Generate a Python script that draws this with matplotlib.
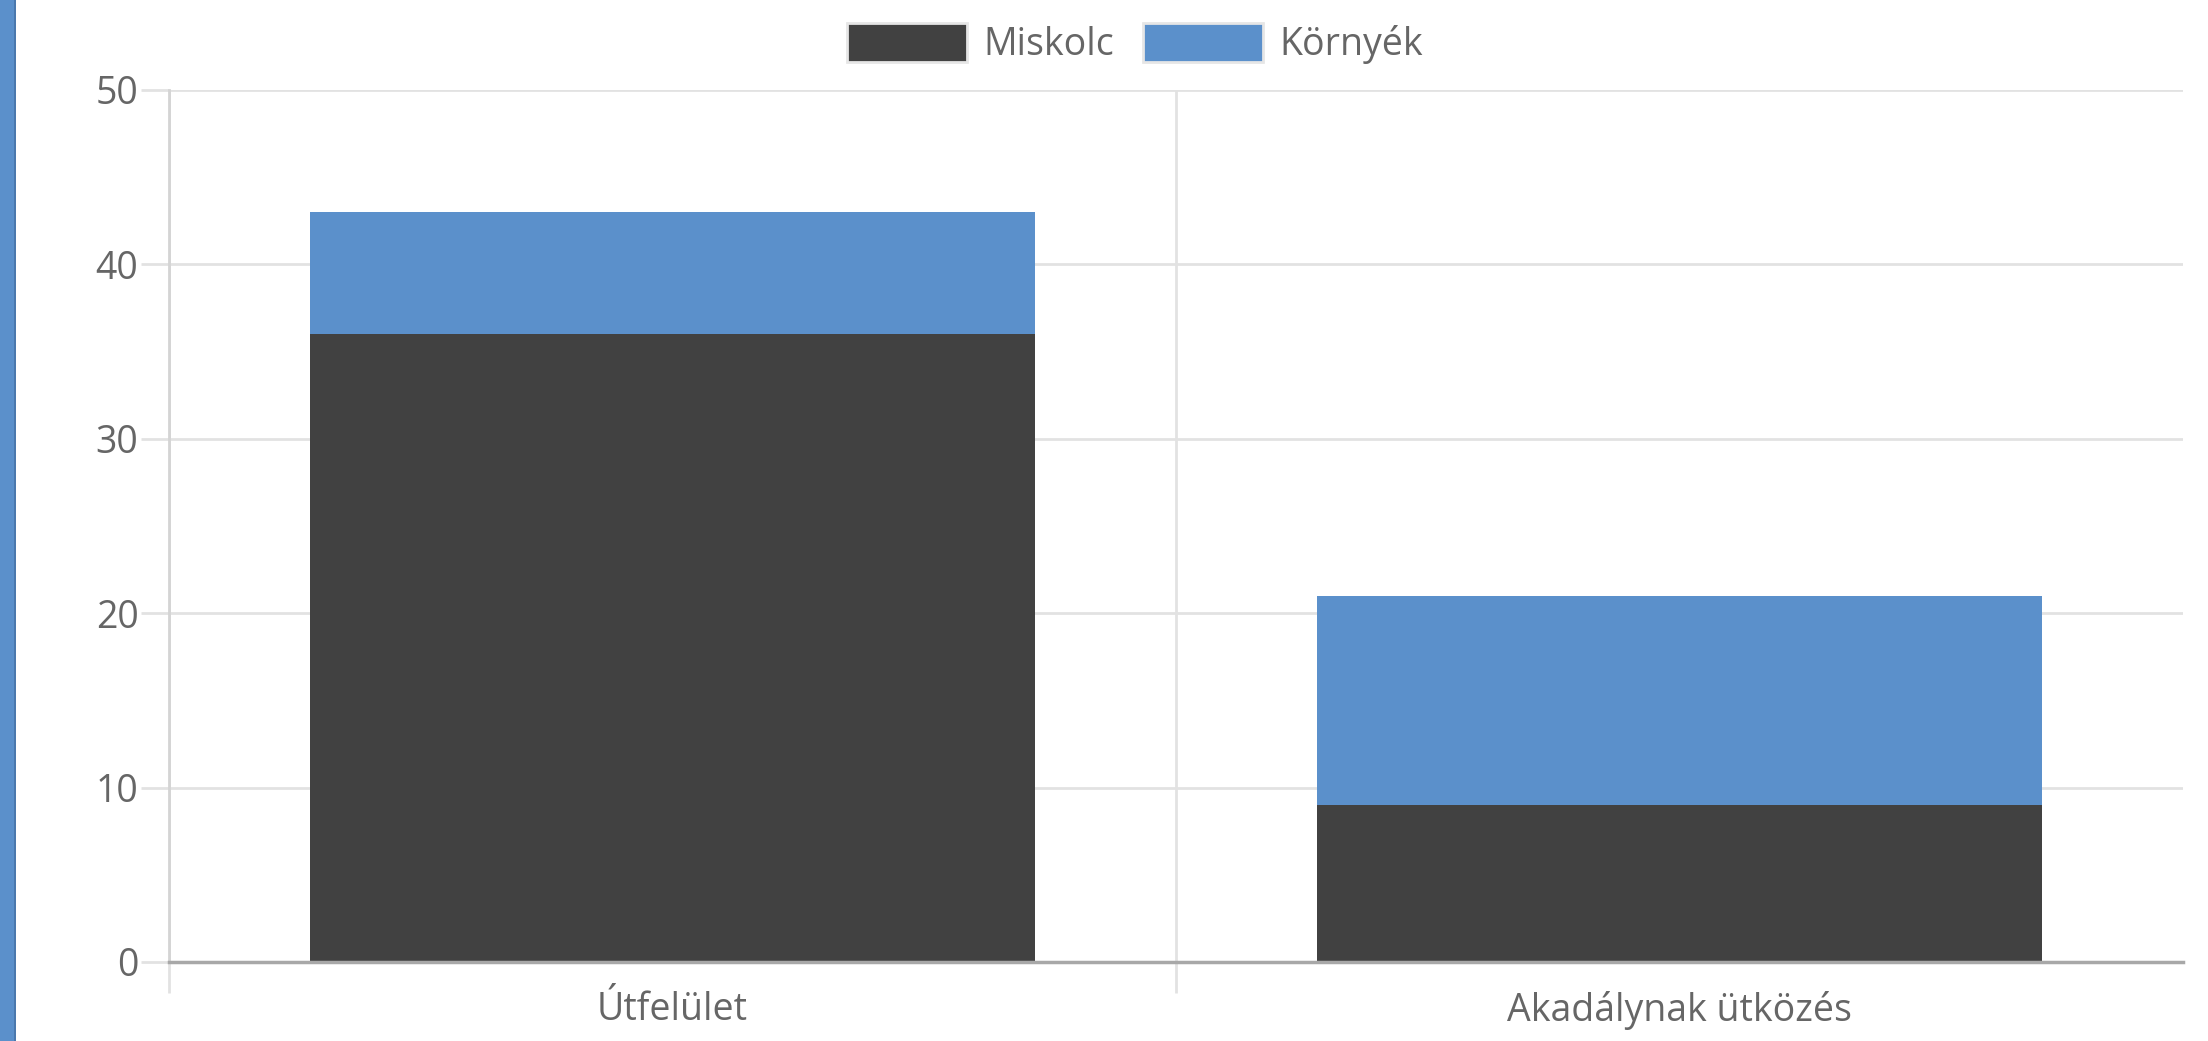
import matplotlib.pyplot as plt
from matplotlib.patches import Rectangle

# data
categories = ['Útfelület', 'Akadálynak ütközés']
miskolc = [36, 9]
kornyek = [7, 12]
series_names = ['Miskolc', 'Környék']
y_ticks = [0, 10, 20, 30, 40, 50]

dark = '#414141'
blue = '#5b90cb'
text_col = '#666666'
grid_col = '#e2e2e2'

plt.rcParams['font.family'] = ['Open Sans', 'DejaVu Sans']

fig = plt.figure(figsize=(22.08, 10.41), dpi=100)
ax = fig.add_axes([169 / 2208, 79 / 1041, 2014 / 2208, 872 / 1041])

# blue stripe on the left edge of the page
fig.patches.append(Rectangle((0, 0), 14 / 2208, 1, transform=fig.transFigure,
                             facecolor=blue, edgecolor='none'))
fig.patches.append(Rectangle((14 / 2208, 0), 2 / 2208, 1, transform=fig.transFigure,
                             facecolor='#4a78ad', edgecolor='none'))

x = list(range(len(categories)))
ax.bar(x, miskolc, width=0.72, color=dark, label=series_names[0], zorder=3)
ax.bar(x, kornyek, width=0.72, bottom=miskolc, color=blue, label=series_names[1], zorder=3)

ax.set_xlim(-0.5, 1.5)
ax.set_ylim(0, 50)
ax.set_yticks(y_ticks)
ax.set_xticks(x)
ax.set_xticklabels(categories)
ax.set_xticks([-0.5, 0.5], minor=True)

ax.grid(axis='y', color=grid_col, linewidth=2, zorder=0)
ax.grid(axis='x', which='minor', color=grid_col, linewidth=2, zorder=0)
ax.grid(axis='x', which='major', visible=False)

for side in ['top', 'right']:
    ax.spines[side].set_visible(False)
ax.spines['left'].set_color('#d4d4d4')
ax.spines['left'].set_linewidth(2)
ax.spines['bottom'].set_color('#a8a8a8')
ax.spines['bottom'].set_linewidth(2.5)
ax.spines['bottom'].set_zorder(4)

ax.tick_params(axis='y', length=20, width=2, color=grid_col, pad=2,
               labelsize=27, labelcolor=text_col)
ax.tick_params(axis='x', which='major', length=0, pad=21,
               labelsize=27, labelcolor=text_col)
ax.tick_params(axis='x', which='minor', length=22, width=2, color=grid_col)

handles = [Rectangle((0, 0), 1, 1, facecolor=dark, edgecolor='#e6e6e6', linewidth=2),
           Rectangle((0, 0), 1, 1, facecolor=blue, edgecolor='#e6e6e6', linewidth=2)]
leg = fig.legend(handles, series_names, loc='center', bbox_to_anchor=(0.514, 0.958),
                 ncol=2, frameon=False, fontsize=27, handlelength=3.2,
                 handleheight=1.2, handletextpad=0.45, columnspacing=0.75)
for t in leg.get_texts():
    t.set_color(text_col)

fig.savefig('out.png', dpi=100)
